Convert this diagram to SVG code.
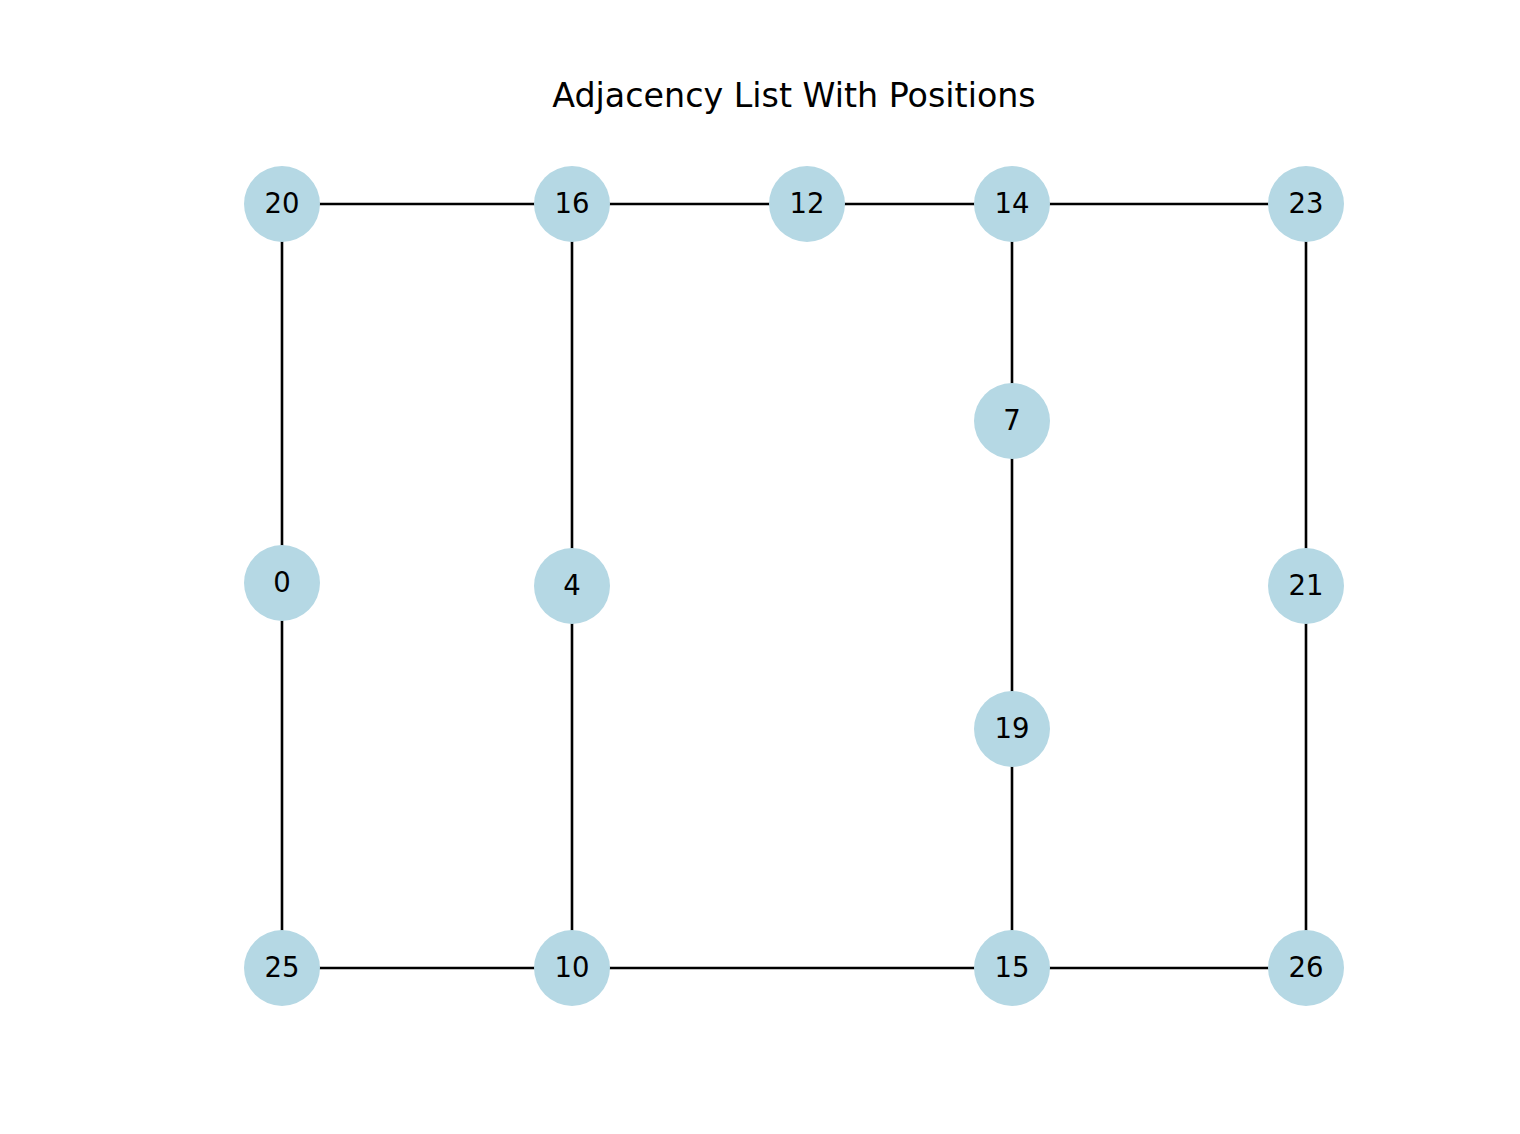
<svg xmlns="http://www.w3.org/2000/svg" width="1520" height="1134" viewBox="0 0 1520 1134">
<style>
.n circle{fill:#b5d8e4}
.n text{font-family:"DejaVu Sans",sans-serif;font-size:27.5px;fill:#000;text-anchor:middle;dominant-baseline:central}
.e line{stroke:#000;stroke-width:2.6}
.t{font-family:"DejaVu Sans",sans-serif;font-size:33.3px;text-anchor:middle}
</style>
<rect width="1520" height="1134" fill="#fff"/>
<text class="t" x="794" y="107">Adjacency List With Positions</text>
<g id="edges" class="e">
<line x1="282" y1="204" x2="572" y2="204"/>
<line x1="572" y1="204" x2="807" y2="204"/>
<line x1="807" y1="204" x2="1012" y2="204"/>
<line x1="1012" y1="204" x2="1306" y2="204"/>
<line x1="282" y1="204" x2="282" y2="583"/>
<line x1="282" y1="583" x2="282" y2="968"/>
<line x1="572" y1="204" x2="572" y2="586"/>
<line x1="572" y1="586" x2="572" y2="968"/>
<line x1="1012" y1="204" x2="1012" y2="421"/>
<line x1="1012" y1="421" x2="1012" y2="729"/>
<line x1="1012" y1="729" x2="1012" y2="968"/>
<line x1="1306" y1="204" x2="1306" y2="586"/>
<line x1="1306" y1="586" x2="1306" y2="968"/>
<line x1="282" y1="968" x2="572" y2="968"/>
<line x1="572" y1="968" x2="1012" y2="968"/>
<line x1="1012" y1="968" x2="1306" y2="968"/>
</g>
<g id="n20" class="n"><circle cx="282" cy="204" r="38"/><text x="282" y="203">20</text></g>
<g id="n16" class="n"><circle cx="572" cy="204" r="38"/><text x="572" y="203">16</text></g>
<g id="n12" class="n"><circle cx="807" cy="204" r="38"/><text x="807" y="203">12</text></g>
<g id="n14" class="n"><circle cx="1012" cy="204" r="38"/><text x="1012" y="203">14</text></g>
<g id="n23" class="n"><circle cx="1306" cy="204" r="38"/><text x="1306" y="203">23</text></g>
<g id="n7" class="n"><circle cx="1012" cy="421" r="38"/><text x="1012" y="420">7</text></g>
<g id="n0" class="n"><circle cx="282" cy="583" r="38"/><text x="282" y="582">0</text></g>
<g id="n4" class="n"><circle cx="572" cy="586" r="38"/><text x="572" y="585">4</text></g>
<g id="n21" class="n"><circle cx="1306" cy="586" r="38"/><text x="1306" y="585">21</text></g>
<g id="n19" class="n"><circle cx="1012" cy="729" r="38"/><text x="1012" y="728">19</text></g>
<g id="n25" class="n"><circle cx="282" cy="968" r="38"/><text x="282" y="967">25</text></g>
<g id="n10" class="n"><circle cx="572" cy="968" r="38"/><text x="572" y="967">10</text></g>
<g id="n15" class="n"><circle cx="1012" cy="968" r="38"/><text x="1012" y="967">15</text></g>
<g id="n26" class="n"><circle cx="1306" cy="968" r="38"/><text x="1306" y="967">26</text></g>
</svg>
